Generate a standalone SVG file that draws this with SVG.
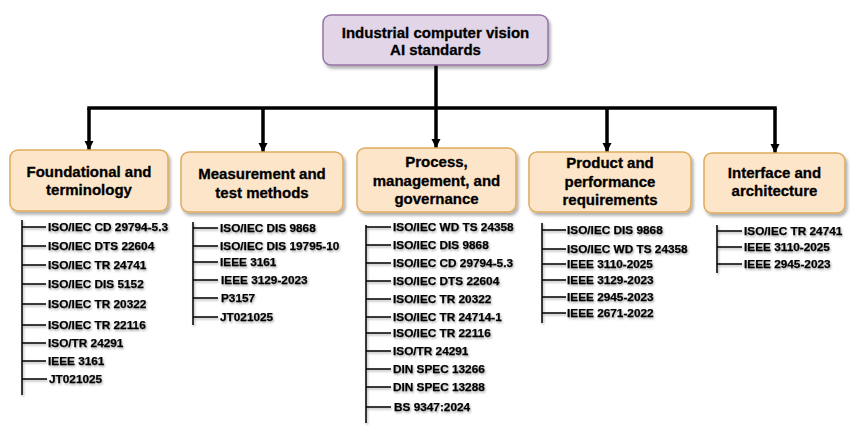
<svg xmlns="http://www.w3.org/2000/svg" width="860" height="436" viewBox="0 0 860 436">
<defs>
<filter id="boxShadow" x="-10%" y="-10%" width="125%" height="135%">
<feDropShadow dx="2" dy="3" stdDeviation="1.5" flood-color="#000" flood-opacity="0.3"/>
</filter>
<filter id="txtShadow" x="-5%" y="-30%" width="115%" height="180%">
<feDropShadow dx="1" dy="1.5" stdDeviation="1" flood-color="#000" flood-opacity="0.35"/>
</filter>
<marker id="arr" viewBox="0 0 10 10" refX="10" refY="5" markerWidth="2.6" markerHeight="2.6" orient="auto" markerUnits="strokeWidth">
<path d="M0,0 L10,5 L0,10 Z" fill="#000"/>
</marker>
<style>
.root{fill:#e1d5e7;stroke:#9673a6;stroke-width:1.5}
.cat{fill:#fde5c9;stroke:#deaa5c;stroke-width:1.5}
.hd{font-family:"Liberation Sans",Arial,sans-serif;font-weight:bold;font-size:15px;fill:#000;stroke:#000;stroke-width:0.3;text-anchor:middle}
.it{font-family:"Liberation Sans",Arial,sans-serif;font-weight:bold;font-size:11.8px;fill:#000;stroke:#000;stroke-width:0.25}
.trunk{stroke:#000;stroke-width:3.5;fill:none}
.list{stroke:#000;stroke-width:1.5;fill:none}
</style>
</defs>
<rect width="860" height="436" fill="#fff"/>

<g id="connectors">
<path class="trunk" d="M436,65 V108"/>
<path class="trunk" d="M87.25,108 H776.75"/>
<path class="trunk" d="M89,108 V150" marker-end="url(#arr)"/>
<path class="trunk" d="M263,108 V152" marker-end="url(#arr)"/>
<path class="trunk" d="M436,108 V148" marker-end="url(#arr)"/>
<path class="trunk" d="M607,108 V152" marker-end="url(#arr)"/>
<path class="trunk" d="M775,108 V153" marker-end="url(#arr)"/>
</g>

<g id="root">
<rect class="root" x="323" y="15" width="225" height="50" rx="8" filter="url(#boxShadow)"/>
<text class="hd" x="435.5" y="38">Industrial computer vision</text>
<text class="hd" x="435.5" y="55">AI standards</text>
</g>

<g id="foundational">
<rect class="cat" x="10" y="150" width="158" height="61" rx="8" filter="url(#boxShadow)"/>
<text class="hd" x="89" y="177">Foundational and</text>
<text class="hd" x="89" y="195">terminology</text>
<g filter="url(#txtShadow)">
<path class="list" d="M22,220 V395 M22,227 H46 M22,246 H46 M22,265 H46 M22,284 H46 M22,304 H46 M22,325 H46 M22,343 H46 M22,361 H46 M22,379 H47"/>
<text class="it" x="48" y="231.3">ISO/IEC CD 29794-5.3</text>
<text class="it" x="48" y="250.3">ISO/IEC DTS 22604</text>
<text class="it" x="48" y="269.3">ISO/IEC TR 24741</text>
<text class="it" x="48" y="288.3">ISO/IEC DIS 5152</text>
<text class="it" x="48" y="308.3">ISO/IEC TR 20322</text>
<text class="it" x="48" y="329.3">ISO/IEC TR 22116</text>
<text class="it" x="48" y="347.3">ISO/TR 24291</text>
<text class="it" x="48" y="365.3">IEEE 3161</text>
<text class="it" x="49" y="383.3">JT021025</text>
</g>
</g>

<g id="measurement">
<rect class="cat" x="181" y="152" width="162" height="60" rx="8" filter="url(#boxShadow)"/>
<text class="hd" x="262" y="179">Measurement and</text>
<text class="hd" x="262" y="198">test methods</text>
<g filter="url(#txtShadow)">
<path class="list" d="M193,222 V325 M193,228 H218 M193,246 H218 M193,262 H218 M193,280 H218 M193,298 H218 M193,317 H218"/>
<text class="it" x="220" y="232.3">ISO/IEC DIS 9868</text>
<text class="it" x="220" y="250.3">ISO/IEC DIS 19795-10</text>
<text class="it" x="220" y="266.3">IEEE 3161</text>
<text class="it" x="221" y="284.3">IEEE 3129-2023</text>
<text class="it" x="221" y="302.3">P3157</text>
<text class="it" x="220" y="321.3">JT021025</text>
</g>
</g>

<g id="process">
<rect class="cat" x="357" y="148" width="159" height="64" rx="8" filter="url(#boxShadow)"/>
<text class="hd" x="436.5" y="167">Process,</text>
<text class="hd" x="436.5" y="186">management, and</text>
<text class="hd" x="436.5" y="204">governance</text>
<g filter="url(#txtShadow)">
<path class="list" d="M366,225 V423 M366,227 H391 M366,245 H391 M366,263 H391 M366,281 H391 M366,299 H391 M366,317 H391 M366,333 H391 M366,351 H391 M366,369 H391 M366,387 H391 M366,407 H391"/>
<text class="it" x="393" y="231.3">ISO/IEC WD TS 24358</text>
<text class="it" x="393" y="249.3">ISO/IEC DIS 9868</text>
<text class="it" x="393" y="267.3">ISO/IEC CD 29794-5.3</text>
<text class="it" x="393" y="285.3">ISO/IEC DTS 22604</text>
<text class="it" x="393" y="303.3">ISO/IEC TR 20322</text>
<text class="it" x="393" y="321.3">ISO/IEC TR 24714-1</text>
<text class="it" x="393" y="337.3">ISO/IEC TR 22116</text>
<text class="it" x="393" y="355.3">ISO/TR 24291</text>
<text class="it" x="393" y="373.3">DIN SPEC 13266</text>
<text class="it" x="393" y="391.3">DIN SPEC 13288</text>
<text class="it" x="394" y="411.3">BS 9347:2024</text>
</g>
</g>

<g id="product">
<rect class="cat" x="529" y="152" width="162" height="60" rx="8" filter="url(#boxShadow)"/>
<text class="hd" x="610" y="168">Product and</text>
<text class="hd" x="610" y="187">performance</text>
<text class="hd" x="610" y="205">requirements</text>
<g filter="url(#txtShadow)">
<path class="list" d="M542,223 V323 M542,230 H566 M542,249 H566 M542,264 H566 M542,280 H566 M542,297 H566 M542,313 H566"/>
<text class="it" x="567" y="234.3">ISO/IEC DIS 9868</text>
<text class="it" x="567" y="253.3">ISO/IEC WD TS 24358</text>
<text class="it" x="567" y="268.3">IEEE 3110-2025</text>
<text class="it" x="567" y="284.3">IEEE 3129-2023</text>
<text class="it" x="567" y="301.3">IEEE 2945-2023</text>
<text class="it" x="567" y="317.3">IEEE 2671-2022</text>
</g>
</g>

<g id="interface">
<rect class="cat" x="704" y="153" width="141" height="60" rx="8" filter="url(#boxShadow)"/>
<text class="hd" x="774.5" y="178">Interface and</text>
<text class="hd" x="774.5" y="196">architecture</text>
<g filter="url(#txtShadow)">
<path class="list" d="M717,225 V273 M717,231 H742 M717,247 H742 M717,264 H742"/>
<text class="it" x="744" y="235.3">ISO/IEC TR 24741</text>
<text class="it" x="744" y="251.3">IEEE 3110-2025</text>
<text class="it" x="744" y="268.3">IEEE 2945-2023</text>
</g>
</g>
</svg>
